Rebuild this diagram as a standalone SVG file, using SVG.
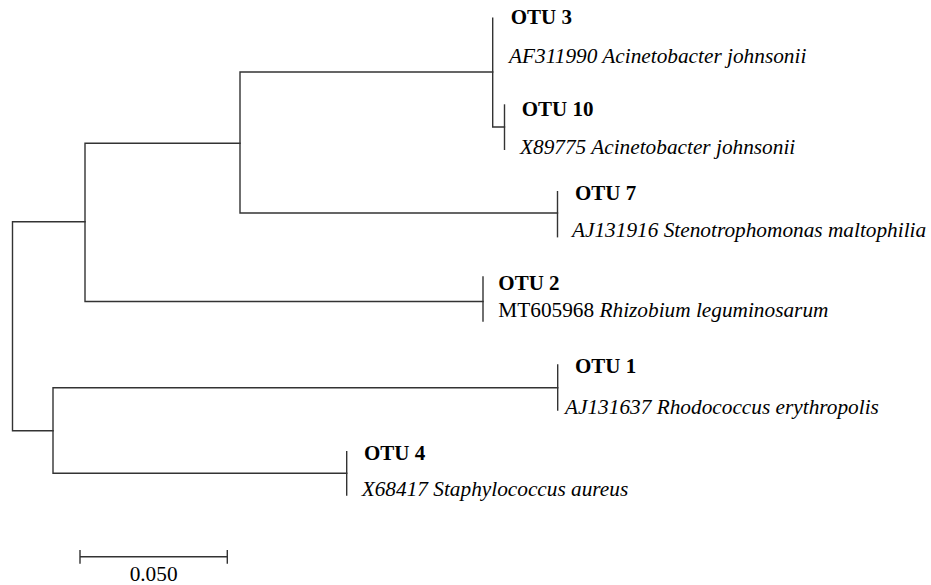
<svg xmlns="http://www.w3.org/2000/svg" width="931" height="585" viewBox="0 0 931 585">
<style>
.br{fill:none;stroke:#333;stroke-width:1.4;stroke-linecap:square}
text{font-family:'Liberation Serif','Times New Roman',Times,'DejaVu Serif',serif;fill:#000}
.b{font-weight:bold;font-size:21px}
.i{font-style:italic;font-size:21.3px}
.r{font-size:21.3px}
</style>
<rect width="931" height="585" fill="#fff"/>
<g id="connectors">
<path class="br" d="M12.5,221.7 V430.7 M12.5,221.7 H85 M12.5,430.7 H53"/>
<path class="br" d="M85,143.3 V301.5 M85,143.3 H240 M85,301.5 H483"/>
<path class="br" d="M240,72 V213 M240,72 H492.7 M240,213 H557.5"/>
<path class="br" d="M492.7,18.3 V127 M492.7,127 H504.5"/>
<path class="br" d="M53,387.7 V473.3 M53,387.7 H557.7 M53,473.3 H346.7"/>
</g>
<g id="otu3">
<text class="b" x="510.7" y="24">OTU 3</text>
<text class="i" x="509" y="63">AF311990 Acinetobacter johnsonii</text>
</g>
<g id="otu10">
<path class="br" d="M504.5,105 V149.3"/>
<text class="b" x="521.7" y="116">OTU 10</text>
<text class="i" x="520" y="154">X89775 Acinetobacter johnsonii</text>
</g>
<g id="otu7">
<path class="br" d="M557.5,191.7 V236.7"/>
<text class="b" x="575" y="200">OTU 7</text>
<text class="i" x="572" y="237">AJ131916 Stenotrophomonas maltophilia</text>
</g>
<g id="otu2">
<path class="br" d="M483,277 V321"/>
<text class="b" x="498.3" y="290">OTU 2</text>
<text class="r" x="498.3" y="316.5">MT605968 <tspan font-style="italic">Rhizobium leguminosarum</tspan></text>
</g>
<g id="otu1">
<path class="br" d="M557.7,365 V410"/>
<text class="b" x="575" y="373">OTU 1</text>
<text class="i" x="565" y="414">AJ131637 Rhodococcus erythropolis</text>
</g>
<g id="otu4">
<path class="br" d="M346.7,451.7 V495"/>
<text class="b" x="364" y="460">OTU 4</text>
<text class="i" x="361.7" y="496">X68417 Staphylococcus aureus</text>
</g>
<g id="scalebar">
<path class="br" d="M80,556.7 H227.3 M80,550.7 V563 M227.3,550.7 V563"/>
<text class="r" x="153.6" y="581" text-anchor="middle">0.050</text>
</g>
</svg>
